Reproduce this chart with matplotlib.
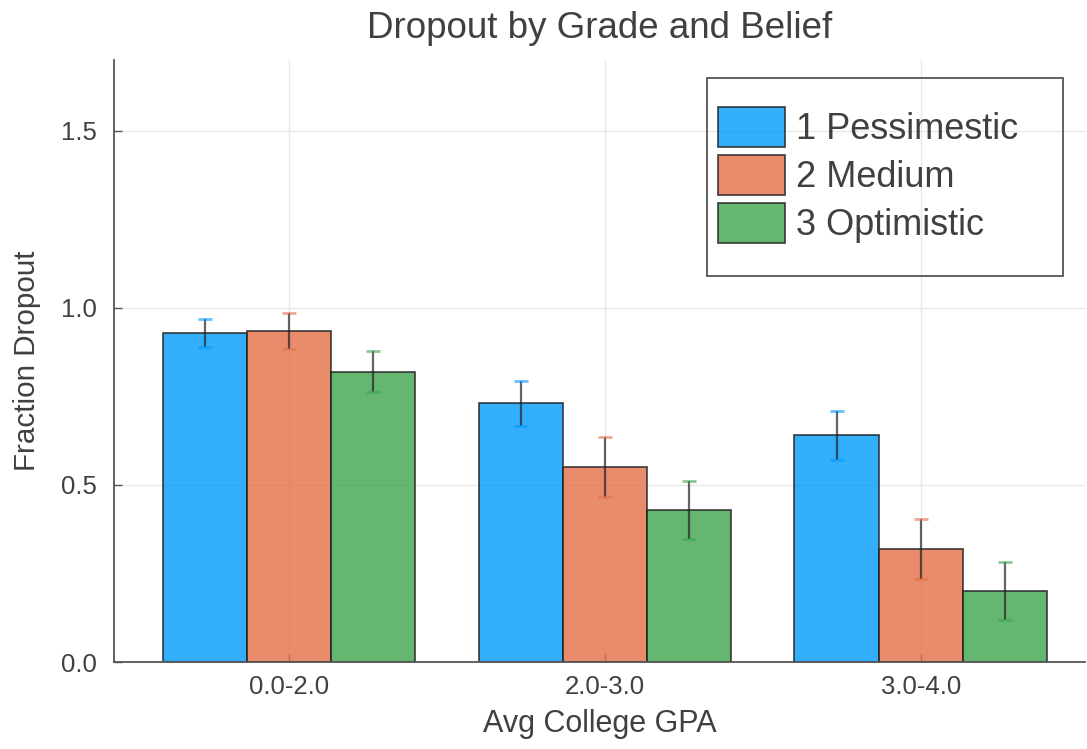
import matplotlib
matplotlib.use("Agg")
import matplotlib.pyplot as plt
from matplotlib.patches import Rectangle
import numpy as np

plt.rcParams['font.family'] = ['Liberation Sans', 'DejaVu Sans']

# Data
groups = ['0.0-2.0', '2.0-3.0', '3.0-4.0']
series = ['1 Pessimestic', '2 Medium', '3 Optimistic']
dropout = [
    [0.93, 0.73, 0.64],   # pessimistic
    [0.935, 0.55, 0.32],  # medium
    [0.82, 0.43, 0.20],   # optimistic
]
errors = [
    [0.04, 0.064, 0.07],
    [0.05, 0.084, 0.085],
    [0.057, 0.082, 0.082],
]
colors = ['#009AFA', '#E36F47', '#3EA44E']

text_color = '#404040'
W, H = 1087, 749

fig = plt.figure(figsize=(W / 100, H / 100), dpi=100)
ax = fig.add_axes([114 / W, 1 - 662 / H, (1085 - 114) / W, (662 - 60) / H])

centers = np.arange(len(groups)) + 0.5
bar_w = 0.8 / len(series)

for i, (name, vals, errs, col) in enumerate(zip(series, dropout, errors, colors)):
    x = centers + (i - 1) * bar_w
    ax.bar(x, vals, width=bar_w, color=col, alpha=0.8, edgecolor='#222222',
           linewidth=1.3, label=name, zorder=2)
    ax.errorbar(x, vals, yerr=errs, fmt='none', ecolor='#222222', elinewidth=1.6,
                alpha=0.7, capsize=0, zorder=3)
    # colored caps
    lo = np.array(vals) - np.array(errs)
    hi = np.array(vals) + np.array(errs)
    ax.scatter(x, lo, marker='_', s=110, color=col, alpha=0.6, linewidths=2, zorder=3)
    ax.scatter(x, hi, marker='_', s=110, color=col, alpha=0.6, linewidths=2, zorder=3)

ax.set_xlim(-0.054, 3.02)
ax.set_ylim(0, 1.70)
ax.set_xticks(centers)
ax.set_xticklabels(groups)
ax.set_yticks([0.0, 0.5, 1.0, 1.5])
ax.set_yticklabels(['0.0', '0.5', '1.0', '1.5'])

ax.grid(True, color='#e8e8e8', linewidth=1, zorder=0)
ax.set_axisbelow(True)
for side in ['top', 'right']:
    ax.spines[side].set_visible(False)
for side in ['left', 'bottom']:
    ax.spines[side].set_color('#555555')
    ax.spines[side].set_linewidth(1.3)

ax.tick_params(axis='both', direction='in', length=6, width=1, color='#555555',
               labelsize=18.5, labelcolor=text_color)
ax.tick_params(axis='y', pad=12)
ax.tick_params(axis='x', pad=9)

ax.set_title('Dropout by Grade and Belief', fontsize=26.5, color=text_color, pad=16)
ax.set_xlabel('Avg College GPA', fontsize=22, color=text_color)
ax.set_ylabel('Fraction Dropout', fontsize=21.3, color=text_color)
ax.xaxis.set_label_coords(0.5, (662 - 709) / 602)
ax.yaxis.set_label_coords((41 - 114) / 971, 0.5)

leg = ax.legend(loc='upper left', bbox_to_anchor=(718 / W, 1 - 107 / H),
                bbox_transform=fig.transFigure, fontsize=26, frameon=False,
                borderpad=0, borderaxespad=0, handlelength=1.85, handleheight=1.32,
                handletextpad=0.3, labelspacing=0.22)
for t in leg.get_texts():
    t.set_color(text_color)
fig.patches.append(Rectangle((707 / W, 1 - 276 / H), (1063 - 707) / W, (276 - 78) / H,
                             transform=fig.transFigure, fill=False,
                             edgecolor='#555555', linewidth=1.3, zorder=5))

fig.savefig('out.png', dpi=100)
